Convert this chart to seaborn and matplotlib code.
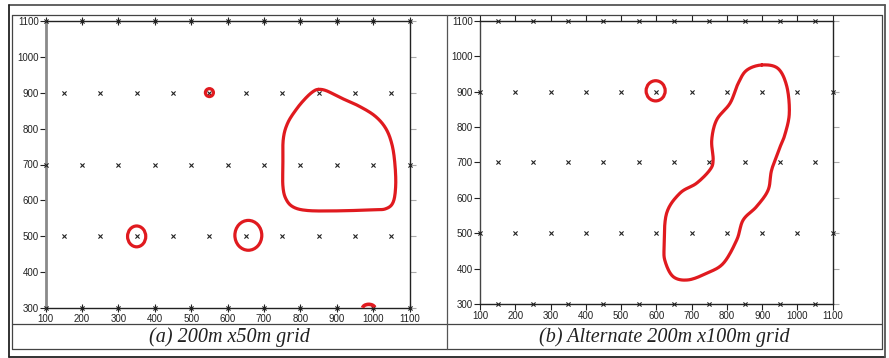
import numpy as np
import pandas as pd
import matplotlib
matplotlib.use("Agg")
import matplotlib.pyplot as plt
from matplotlib.patches import Ellipse, Arc
from matplotlib.lines import Line2D
import seaborn as sns

# ---------------- data ----------------
# station grid, panel (a): 200m x 50m
a_full_x = [100, 200, 300, 400, 500, 600, 700, 800, 900, 1000, 1100]
a_off_x = [150, 250, 350, 450, 550, 650, 750, 850, 950, 1050]
a_full_rows = [1100, 700, 300]
a_off_rows = [900, 500]

# panel (b): alternate 200m x 100m
b_full_x = [100, 200, 300, 400, 500, 600, 700, 800, 900, 1000, 1100]
b_off_x = [150, 250, 350, 450, 550, 650, 750, 850, 950, 1050]
b_full_rows = [900, 500]
b_off_rows = [1100, 700, 300]

# red anomaly outlines
a_blob_x = [850, 872, 910, 960, 1005, 1035, 1052, 1060, 1062, 1055, 1035, 1000, 900, 820, 780, 760, 752, 752, 753, 765, 790, 815, 835]
a_blob_y = [909, 905, 886, 863, 835, 800, 755, 700, 640, 595, 577, 574, 571, 572, 582, 605, 640, 700, 770, 815, 855, 885, 903]
a_ell_x = [550, 350, 657]
a_ell_y = [900, 500, 503]
a_ell_w = [22, 50, 74]
a_ell_h = [22, 58, 83]

b_blob_x = [899, 945, 970, 977, 965, 951, 927, 917, 884, 846, 828, 790, 743, 690, 648, 625, 622, 629, 667, 714, 752, 761, 757, 771, 809, 832, 856]
b_blob_y = [975, 965, 914, 839, 780, 744, 679, 622, 575, 537, 481, 415, 387, 368, 377, 420, 462, 556, 613, 641, 679, 707, 763, 820, 867, 923, 960]
b_ell_x = [598]
b_ell_y = [902]
b_ell_w = [54]
b_ell_h = [57]

ticks = [100, 200, 300, 400, 500, 600, 700, 800, 900, 1000, 1100]
yticks = [300, 400, 500, 600, 700, 800, 900, 1000, 1100]
captions = ["(a) 200m x50m grid", "(b) Alternate 200m x100m grid"]

RED = "#e01a1f"

# ---------------- helpers ----------------
def stations(full_x, off_x, full_rows, off_rows):
    xs, ys = [], []
    for r in full_rows:
        xs += full_x; ys += [r] * len(full_x)
    for r in off_rows:
        xs += off_x; ys += [r] * len(off_x)
    return pd.DataFrame({"x": xs, "y": ys})

def smooth_closed(xs, ys, n=16):
    p = np.column_stack([xs, ys]).astype(float)
    m = len(p)
    out = []
    t = np.linspace(0, 1, n, endpoint=False)[:, None]
    for i in range(m):
        p0, p1, p2, p3 = p[(i - 1) % m], p[i], p[(i + 1) % m], p[(i + 2) % m]
        seg = 0.5 * ((2 * p1) + (-p0 + p2) * t + (2 * p0 - 5 * p1 + 4 * p2 - p3) * t ** 2
                     + (-p0 + 3 * p1 - 3 * p2 + p3) * t ** 3)
        out.append(seg)
    out = np.vstack(out + [p[:1]])
    return out[:, 0], out[:, 1]

# ---------------- figure ----------------
sns.set_theme(style="white")
plt.rcParams["font.family"] = ["Liberation Sans", "DejaVu Sans"]

W, H = 889, 358
fig = plt.figure(figsize=(W / 100, H / 100), dpi=100)

def fx(px):
    return px / W

def fy(py):
    return 1 - py / H

ax_a = fig.add_axes([fx(45.7), fy(308.3), fx(409.5) - fx(45.7), fy(20.7) - fy(308.3)])
ax_b = fig.add_axes([fx(480.0), fy(304.0), fx(832.7) - fx(480.0), fy(20.7) - fy(304.0)])

panels = [
    (ax_a, stations(a_full_x, a_off_x, a_full_rows, a_off_rows), a_blob_x, a_blob_y,
     a_ell_x, a_ell_y, a_ell_w, a_ell_h),
    (ax_b, stations(b_full_x, b_off_x, b_full_rows, b_off_rows), b_blob_x, b_blob_y,
     b_ell_x, b_ell_y, b_ell_w, b_ell_h),
]

for idx, (ax, df, bx, by, ex, ey, ew, eh) in enumerate(panels):
    ax.set_facecolor("white")
    sns.scatterplot(data=df, x="x", y="y", ax=ax, marker="x", s=9, color="#222222",
                    linewidth=0.8, clip_on=False, zorder=4, legend=False)
    sx, sy = smooth_closed(bx, by)
    ax.plot(sx, sy, color=RED, lw=2.3, solid_joinstyle="round", zorder=5)
    for cx, cy, w, h in zip(ex, ey, ew, eh):
        ax.add_patch(Ellipse((cx, cy), w, h, fill=False, ec=RED, lw=2.3, zorder=5))
    ax.set_xlim(100, 1100)
    ax.set_ylim(300, 1100)
    ax.set_xticks(ticks)
    ax.set_yticks(yticks)
    ax.set_xlabel("")
    ax.set_ylabel("")
    ax.tick_params(axis="both", labelsize=7, colors="#222222", pad=1)
    ax.tick_params(axis="y", direction="out", length=4, width=0.8, left=True, right=False)
    if idx == 0:
        ax.tick_params(axis="x", direction="inout", length=6, width=0.8, bottom=True,
                       top=True, labeltop=False)
    else:
        ax.tick_params(axis="x", direction="out", length=4, width=0.8, bottom=True,
                       top=True, labeltop=False)
    for s in ["top", "bottom", "right"]:
        ax.spines[s].set_color("#222222")
        ax.spines[s].set_linewidth(1.0)
    ax.spines["left"].set_linewidth(1.0)
    ax.spines["left"].set_color("#444444")
    # faint outward ticks on the right edge
    sec = ax.secondary_yaxis("right")
    sec.set_yticks(yticks)
    sec.tick_params(axis="y", direction="out", length=4, width=0.8, colors="#aaaaaa",
                    labelright=False)
    sec.spines["right"].set_visible(False)

# panel a: grey thick left axis, partial anomaly at the lower edge
ax_a.spines["left"].set_color("#8a8a8a")
ax_a.spines["left"].set_linewidth(2.0)
ax_a.add_patch(Arc((988, 300), 34, 22, theta1=10, theta2=175, ec=RED, lw=2.6, zorder=5,
                   clip_on=False))

# ---------------- frame / table lines ----------------
def hline(y, x0, x1, lw=1.0, c="#444444"):
    fig.add_artist(Line2D([fx(x0), fx(x1)], [fy(y), fy(y)], lw=lw, color=c))

def vline(x, y0, y1, lw=1.0, c="#444444"):
    fig.add_artist(Line2D([fx(x), fx(x)], [fy(y0), fy(y1)], lw=lw, color=c))

# outer rectangle
hline(5, 9, 885, lw=1.3, c="#555555")
hline(356.7, 9, 885, lw=1.3, c="#222222")
vline(9, 5, 356.7, lw=1.3, c="#222222")
vline(885, 5, 356.7, lw=1.3, c="#555555")
# inner table
hline(14.7, 12.3, 882.3, lw=0.9, c="#444444")
hline(349, 12.3, 882.3, lw=0.9, c="#444444")
vline(12.3, 14.7, 349, lw=0.9, c="#444444")
vline(882.3, 14.7, 349, lw=0.9, c="#444444")
hline(324.3, 12.3, 882.3, lw=0.9, c="#444444")
vline(446.7, 14.7, 349, lw=0.9, c="#555555")

# captions
fig.text(fx(229.5), fy(337.5), captions[0], ha="center", va="center", fontsize=14.5,
         style="italic", family=["Liberation Serif", "DejaVu Serif"], color="#222222")
fig.text(fx(664.5), fy(337.5), captions[1], ha="center", va="center", fontsize=14.5,
         style="italic", family=["Liberation Serif", "DejaVu Serif"], color="#222222")

fig.savefig("out.png", dpi=100, facecolor="white")
